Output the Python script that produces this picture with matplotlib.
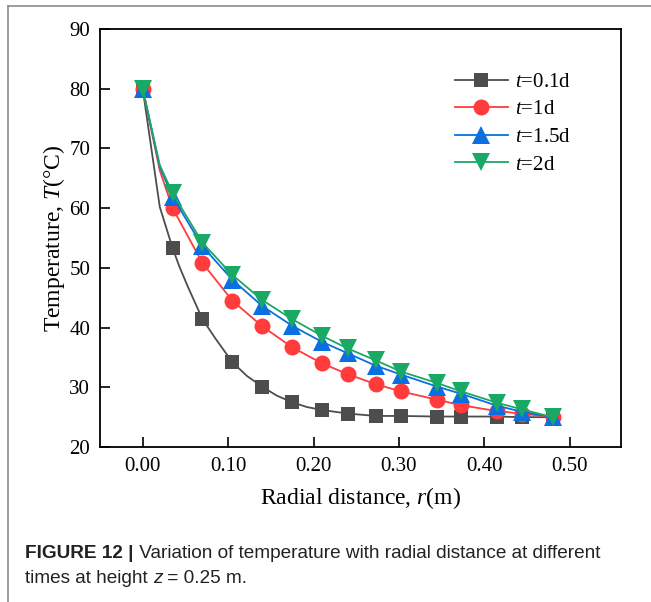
import numpy as np
import matplotlib.pyplot as plt
from matplotlib.lines import Line2D
from matplotlib import font_manager

# ---------------------------------------------------------------------------
# Data (r in m, T in degC)
# ---------------------------------------------------------------------------
r_marker = [0.0, 0.035, 0.07, 0.105, 0.14, 0.175, 0.21, 0.24, 0.273, 0.303,
            0.345, 0.373, 0.415, 0.444, 0.48]

T_01d = [80.0, 53.3, 41.4, 34.2, 30.1, 27.5, 26.2, 25.6, 25.2, 25.2,
         25.1, 25.1, 25.1, 25.0, 25.0]
T_1d = [80.0, 60.0, 50.8, 44.5, 40.2, 36.7, 34.0, 32.2, 30.5, 29.3,
        27.9, 27.0, 26.0, 25.6, 25.0]
T_15d = [80.0, 61.9, 53.6, 48.0, 43.6, 40.3, 37.6, 35.7, 33.6, 32.1,
         30.1, 28.9, 26.9, 25.9, 25.0]
T_2d = [80.0, 62.5, 54.2, 48.8, 44.6, 41.4, 38.6, 36.5, 34.5, 32.6,
        30.7, 29.3, 27.4, 26.3, 25.0]

# extra mesh nodes the lines pass through (no markers drawn there)
r_extra = [0.02]
T_extra_01d = [60.2]
T_extra_1d = [66.3]
T_extra_15d = [66.9]
T_extra_2d = [67.2]

# additional nodes on the steep part of the t=0.1d curve
r_extra_01d = [0.043, 0.053, 0.085, 0.122, 0.157, 0.192]
T_extra2_01d = [50.2, 46.8, 38.2, 31.9, 28.6, 26.7]

labels = ['=0.1d', '=1d', '=1.5d', '=2d']
colors = ['#4d4d4d', '#ff3b3b', '#0b6fe0', '#1aa865']
markers = ['s', 'o', '^', 'v']

caption_bold = 'FIGURE 12 |'
caption_rest = ' Variation of temperature with radial distance at different'
caption_line2 = ['times at height ', 'z', ' = 0.25 m.']

# ---------------------------------------------------------------------------
serif = 'Liberation Serif'
names = {f.name for f in font_manager.fontManager.ttflist}
narrow = 'Liberation Sans Narrow' if 'Liberation Sans Narrow' in names else 'Liberation Sans'

plt.rcParams['font.family'] = serif
plt.rcParams['mathtext.fontset'] = 'custom'
plt.rcParams['mathtext.it'] = 'Liberation Serif:italic'
plt.rcParams['mathtext.rm'] = 'Liberation Serif'

fig = plt.figure(figsize=(6.51, 6.02), dpi=100)
W, H = 651, 602
ax = fig.add_axes([100 / W, 1 - 447 / H, 521 / W, 418 / H])


def merged(r_m, t_m, r_x, t_x):
    pts = sorted(zip(list(r_m) + list(r_x), list(t_m) + list(t_x)))
    rr = [p[0] for p in pts]
    tt = [p[1] for p in pts]
    mk = [rr.index(v) for v in r_m]
    return rr, tt, mk


series = [
    (T_01d, r_extra + r_extra_01d, T_extra_01d + T_extra2_01d),
    (T_1d, r_extra, T_extra_1d),
    (T_15d, r_extra, T_extra_15d),
    (T_2d, r_extra, T_extra_2d),
]

handles = []
for (T, rx, tx), lab, c, m in zip(series, labels, colors, markers):
    rr, tt, mk = merged(r_marker, T, rx, tx)
    ms = {'s': 10.5, 'o': 11.5, '^': 12.5, 'v': 12.5}[m]
    ax.plot(rr, tt, color=c, lw=1.3, marker=m, markevery=mk, ms=ms,
            markeredgewidth=0, zorder=3)
    handles.append(Line2D([], [], color=c, lw=1.3, marker=m, ms=ms,
                          markeredgewidth=0, label='$t$' + lab))

ax.set_xlim(-0.05, 0.56)
ax.set_ylim(20, 90)
ax.set_xticks([0.0, 0.1, 0.2, 0.3, 0.4, 0.5])
ax.set_xticklabels(['0.00', '0.10', '0.20', '0.30', '0.40', '0.50'])
ax.set_yticks([20, 30, 40, 50, 60, 70, 80, 90])
ax.tick_params(direction='in', length=7, width=1.2, labelsize=15, pad=7)
for s in ax.spines.values():
    s.set_linewidth(1.3)

ax.set_xlabel('Radial distance, $r$(m)', fontsize=17, labelpad=7)
ax.set_ylabel('Temperature, $T$(\u00b0C)', fontsize=17, labelpad=2)

ax.legend(handles=handles, loc='upper left', bbox_to_anchor=(345 / 521, 1 - 33 / 418),
          frameon=False, fontsize=15, handlelength=2.5, handletextpad=0.35,
          labelspacing=0.38, borderpad=0)

# page frame lines (left and top)
fig.add_artist(Line2D([8 / W, 8 / W], [0, 1 - 6 / H], color='#8c8c8c', lw=1.2))
fig.add_artist(Line2D([8 / W, 1], [1 - 6 / H, 1 - 6 / H], color='#8c8c8c', lw=1.2))

# caption
cap_fs = 13.7
y1 = 1 - 558 / H
y2 = 1 - 583 / H
t1 = fig.text(25 / W, y1, caption_bold, fontsize=cap_fs, fontweight='bold',
              family='Liberation Sans', va='baseline', color='#222222')
fig.canvas.draw()
x_next = t1.get_window_extent().x1 / W
fig.text(x_next, y1, caption_rest, fontsize=cap_fs, family=narrow,
         va='baseline', color='#222222')

x_next = 25 / W
for i, part in enumerate(caption_line2):
    t = fig.text(x_next, y2, part, fontsize=cap_fs, family=narrow,
                 style='italic' if i == 1 else 'normal', va='baseline', color='#222222')
    fig.canvas.draw()
    x_next = t.get_window_extent().x1 / W

fig.savefig('out.png', dpi=100)
